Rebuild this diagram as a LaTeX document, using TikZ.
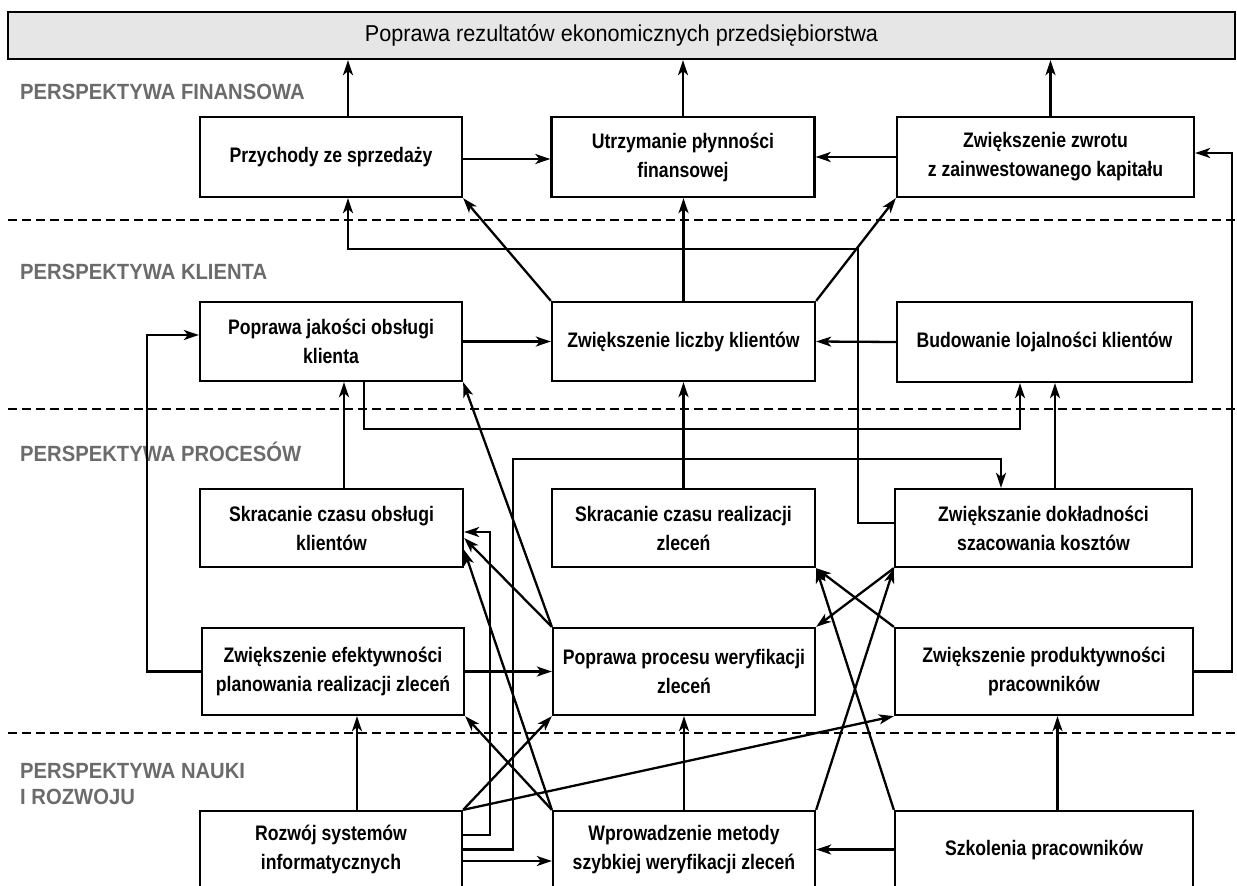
\documentclass[tikz,border=0pt]{standalone}
\usepackage{fontspec}
\setmainfont{Liberation Sans}
\newfontfamily\narrowfont[FakeStretch=0.84]{Liberation Sans}
\newfontfamily\bannerfont[FakeStretch=0.94]{Liberation Sans}
\newfontfamily\perspfont[FakeStretch=0.92]{Liberation Sans}
\usetikzlibrary{arrows.meta}
\definecolor{bannerfill}{HTML}{E6E6E6}
\definecolor{labelgray}{HTML}{6B6B6B}
\begin{document}
\begin{tikzpicture}[x=1pt,y=-1pt,
  box/.style={draw, line width=2.3pt, fill=white, inner sep=2pt, align=center,
    font=\narrowfont\bfseries\fontsize{21}{29}\selectfont},
  arr/.style={line width=2.3pt, -{Stealth[length=15pt,width=10pt,inset=4pt]}},
  dashline/.style={line width=1.7pt, dash pattern=on 9pt off 5pt},
  persp/.style={anchor=west, inner sep=0pt, align=left, text=labelgray,
    font=\perspfont\bfseries\fontsize{22}{26}\selectfont}]
\useasboundingbox (0,0) rectangle (1237,886);
\clip (0,0) rectangle (1237,886);

% perspective labels
\node[persp] (lf) at (20,92) {PERSPEKTYWA FINANSOWA};
\node[persp] (lk) at (20,272) {PERSPEKTYWA KLIENTA};
\node[persp] (lp) at (20,452) {PERSPEKTYWA PROCESÓW};
\node[persp] (ln) at (20,784) {PERSPEKTYWA NAUKI\\I ROZWOJU};

% dashed separators
\draw[dashline] (8,220) -- (1237,220);
\draw[dashline] (8,409) -- (1237,409);
\draw[dashline] (8,733) -- (1237,733);

% banner
\node[draw, line width=2.3pt, fill=bannerfill, minimum width=1227pt, minimum height=47pt,
  inner sep=0pt, font=\bannerfont\fontsize{23}{26}\selectfont] (banner) at (621.5,35.5)
  {Poprawa rezultatów ekonomicznych przedsiębiorstwa};

% row 1
\node[box, minimum width=262pt, minimum height=80pt] (P1) at (331,157) {Przychody ze sprzedaży};
\node[box, minimum width=263pt, minimum height=80pt] (P2) at (683,157) {Utrzymanie płynności\\finansowej};
\node[box, minimum width=297pt, minimum height=80pt] (P3) at (1045.5,157) {Zwiększenie zwrotu\\z zainwestowanego kapitału};
% row 2
\node[box, minimum width=262pt, minimum height=79pt] (K1) at (331,341.5) {Poprawa jakości obsługi\\klienta};
\node[box, minimum width=263pt, minimum height=79pt] (K2) at (683.5,341.5) {Zwiększenie liczby klientów};
\node[box, minimum width=295pt, minimum height=80pt] (K3) at (1044.5,342) {Budowanie lojalności klientów};
% row 3
\node[box, minimum width=263pt, minimum height=78pt] (R1) at (331.5,528) {Skracanie czasu obsługi\\klientów};
\node[box, minimum width=263pt, minimum height=78pt] (R2) at (683.5,528) {Skracanie czasu realizacji\\zleceń};
\node[box, minimum width=297pt, minimum height=78pt] (R3) at (1043.5,528) {Zwiększanie dokładności\\szacowania kosztów};
% row 4
\node[box, minimum width=262pt, minimum height=87pt] (Q1) at (333,671.5) {Zwiększenie efektywności\\planowania realizacji zleceń};
\node[box, minimum width=262pt, minimum height=87pt] (Q2) at (684,671.5) {Poprawa procesu weryfikacji\\zleceń};
\node[box, minimum width=298pt, minimum height=87pt] (Q3) at (1044,671.5) {Zwiększenie produktywności\\pracowników};
% row 5
\node[box, minimum width=262pt, minimum height=77pt] (N1) at (331,849.5) {Rozwój systemów\\informatycznych};
\node[box, minimum width=262pt, minimum height=77pt] (N2) at (684,849.5) {Wprowadzenie metody\\szybkiej weryfikacji zleceń};
\node[box, minimum width=298pt, minimum height=77pt] (N3) at (1044,849.5) {Szkolenia pracowników};

% helper coordinates
\coordinate (a1) at ([xshift=17pt]P1.north);
\coordinate (a3) at ([xshift=5pt]P3.north);
\coordinate (h1) at (858,249);
\coordinate (j1) at (1020,429);
\coordinate (b1) at ([xshift=11.5pt]R3.north);
\coordinate (b2) at ([xshift=12.5pt]R1.north);
\coordinate (v1) at (490,532);
\coordinate (v2) at (513,459);
\coordinate (v3) at (1001,459);
\coordinate (n1) at ([xshift=26pt]N1.north);
\coordinate (n3) at ([xshift=13.5pt]N3.north);

% to banner
\draw[arr] (a1) -- (a1 |- banner.south);
\draw[arr] (P2.north) -- (P2.north |- banner.south);
\draw[arr] (a3) -- (a3 |- banner.south);
% financial row
\draw[arr] ([yshift=-2pt]P1.east) -- ([yshift=-2pt]P2.west);
\draw[arr] (P3.west) -- (P2.east);
\draw[arr] (Q3.east) -- ++(38,0) |- ([yshift=4pt]P3.east);
% from K2 up
\draw[arr] (K2.north west) -- (P1.south east);
\draw[arr] (K2.north) -- (K2.north |- P2.south);
\draw[arr] (K2.north east) -- (P3.south west);
\draw[arr] ([yshift=5pt]R3.west) -| (h1) -| ([xshift=17pt]P1.south);
% client row
\draw[arr] (K1.east) -- (K2.west);
\draw[arr] (K3.west) -- (K2.east);
\draw[arr] ([xshift=33pt]K1.south) |- (j1) -- (j1 |- K3.south);
\draw[arr] (b1) -- (b1 |- K3.south);
\draw[arr] (b2) -- (b2 |- K1.south);
\draw[arr] (R2.north) -- (R2.north |- K2.south);
\draw[arr] (Q1.west) -- ++(-54,0) |- ([yshift=6.5pt]K1.west);
\draw[arr] (Q2.north west) -- (K1.south east);
% into R1
\draw[arr] (Q2.north west) -- ([yshift=-10pt]R1.east);
\draw[arr] (N2.north west) -- ([yshift=-22pt]R1.east);
\draw[arr] ([yshift=14.5pt]N1.east) -| (v1) -- ([yshift=-4pt]R1.east);
\draw[arr] (N1.east) -| (v2) -- (v3) -- (v3 |- R3.north);
\draw[arr] ([yshift=-11.5pt]N1.east) -- ([yshift=-11.5pt]N2.west);
% bottom rows
\draw[arr] (n1) -- (n1 |- Q1.south);
\draw[arr] (N1.north east) -- (Q2.south west);
\draw[arr] (N1.north east) -- (Q3.south west);
\draw[arr] (N2.north west) -- (Q1.south east);
\draw[arr] (N2.north) -- (N2.north |- Q2.south);
\draw[arr] (N2.north east) -- (R3.south west);
\draw[arr] (N3.north west) -- (R2.south east);
\draw[arr] (n3) -- (n3 |- Q3.south);
\draw[arr] (N3.west) -- (N2.east);
\draw[arr] (Q1.east) -- (Q2.west);
\draw[arr] (R3.south west) -- (Q2.north east);
\draw[arr] (Q3.north west) -- (R2.south east);
\end{tikzpicture}
\end{document}
